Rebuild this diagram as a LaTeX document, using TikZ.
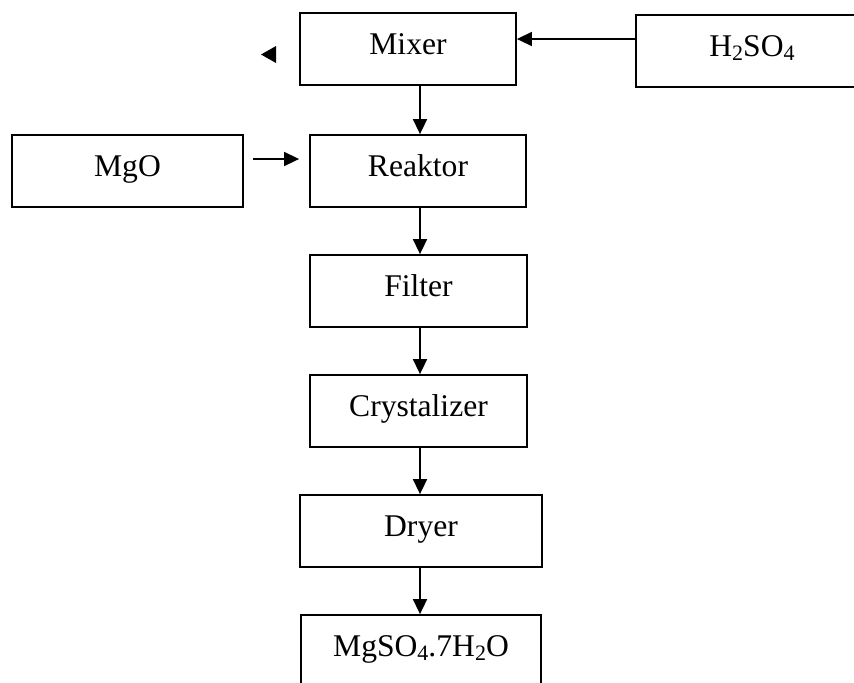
\documentclass[tikz,border=0pt]{standalone}
\usepackage{fontspec}
\setmainfont{Liberation Serif}
\usetikzlibrary{arrows.meta}
\newcommand{\chemsub}[1]{\raisebox{-0.12em}{\fontsize{11pt}{11pt}\selectfont #1}}
\tikzset{
  procbox/.style={draw, line width=0.9pt, rectangle, inner sep=0pt,
    minimum height=36pt, font=\fontsize{15.8pt}{18pt}\selectfont,
    text height=10.4pt, text depth=5pt},
  flow/.style={line width=0.8pt, -{Triangle[length=7.5pt,width=7pt]}}
}
\begin{document}
\begin{tikzpicture}[x=0.5pt,y=-0.5pt]
\useasboundingbox (0,0) rectangle (854,682);
\clip (0,0) rectangle (854,682);
\node[procbox, minimum width=108pt] (mixer) at (408,49) {Mixer};
\node[procbox, minimum width=116pt] (acid) at (752,51) {H\chemsub{2}SO\chemsub{4}};
\node[procbox, minimum width=115.5pt] (mgo) at (127.5,171) {MgO};
\node[procbox, minimum width=108pt] (reaktor) at (418,171) {Reaktor};
\node[procbox, minimum width=108.5pt] (filter) at (418.5,291) {Filter};
\node[procbox, minimum width=108.5pt] (cryst) at (418.5,411) {Crystalizer};
\node[procbox, minimum width=121pt] (dryer) at (421,531) {Dryer};
\node[procbox, minimum width=120pt] (prod) at (421,651) {MgSO\chemsub{4}.7H\chemsub{2}O};
\coordinate (acidout) at ([yshift=6pt]acid.west);
\draw[flow] (acidout) -- (acidout -| mixer.east);
\coordinate (mgoout) at ([xshift=4.5pt,yshift=6pt]mgo.east);
\coordinate (reakin) at ([xshift=-5pt,yshift=6pt]reaktor.west);
\draw[flow] (mgoout) -- (reakin);
\coordinate (mixdown) at (mixer.south -| 420,0);
\draw[flow] (mixdown) -- (mixdown |- reaktor.north);
\coordinate (rdown) at (reaktor.south -| 420,0);
\draw[flow] (rdown) -- (rdown |- filter.north);
\coordinate (fdown) at (filter.south -| 420,0);
\draw[flow] (fdown) -- (fdown |- cryst.north);
\coordinate (cdown) at (cryst.south -| 420,0);
\draw[flow] (cdown) -- (cdown |- dryer.north);
\coordinate (ddown) at (dryer.south -| 420,0);
\draw[flow] (ddown) -- (ddown |- prod.north);
\fill (261,54.5) -- (276,46) -- (276,63) -- cycle;
\end{tikzpicture}
\end{document}
